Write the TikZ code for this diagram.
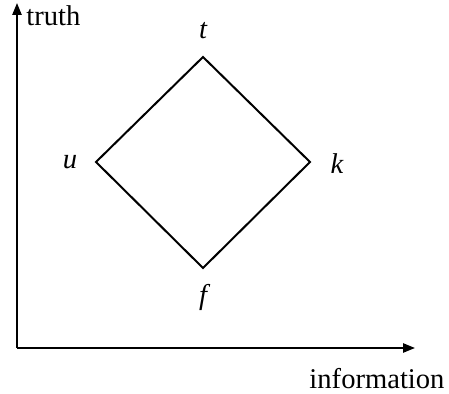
\documentclass[tikz,border=0pt]{standalone}
\usepackage{fontspec}
\setmainfont{Liberation Serif}
\usetikzlibrary{arrows.meta}
\begin{document}
\begin{tikzpicture}[x=0.5pt,y=-0.5pt,
  axis/.style={line width=1pt,-{Triangle[length=6pt,width=4.6pt]}},
  edge/.style={line width=1pt,line join=miter},
  lbl/.style={font=\fontsize{14.3}{16}\selectfont,inner sep=0pt},
  vert/.style={inner sep=0pt,minimum size=0pt}]
\useasboundingbox (0,0) rectangle (449,394);
\coordinate (o) at (17,348);
\coordinate (ytip) at (17,3);
\coordinate (xtip) at (415,348);
\draw[axis] (o) -- (ytip);
\draw[axis] (o) -- (xtip);
\node[lbl,anchor=west] (truth) at (26,16) {truth};
\node[lbl,anchor=base,text depth=0pt] (info) at (377,389) {information};
\coordinate (T) at (203,57);
\coordinate (U) at (96,162);
\coordinate (K) at (310,162);
\coordinate (F) at (203,268);
\draw[edge] (T) -- (K) -- (F) -- (U) -- cycle;
\node[lbl] (t) at (203,31) {\itshape t};
\node[lbl] (u) at (70,162) {\itshape u};
\node[lbl] (k) at (337,164) {\itshape k};
\node[lbl] (f) at (203,297) {\itshape f};
\end{tikzpicture}
\end{document}
